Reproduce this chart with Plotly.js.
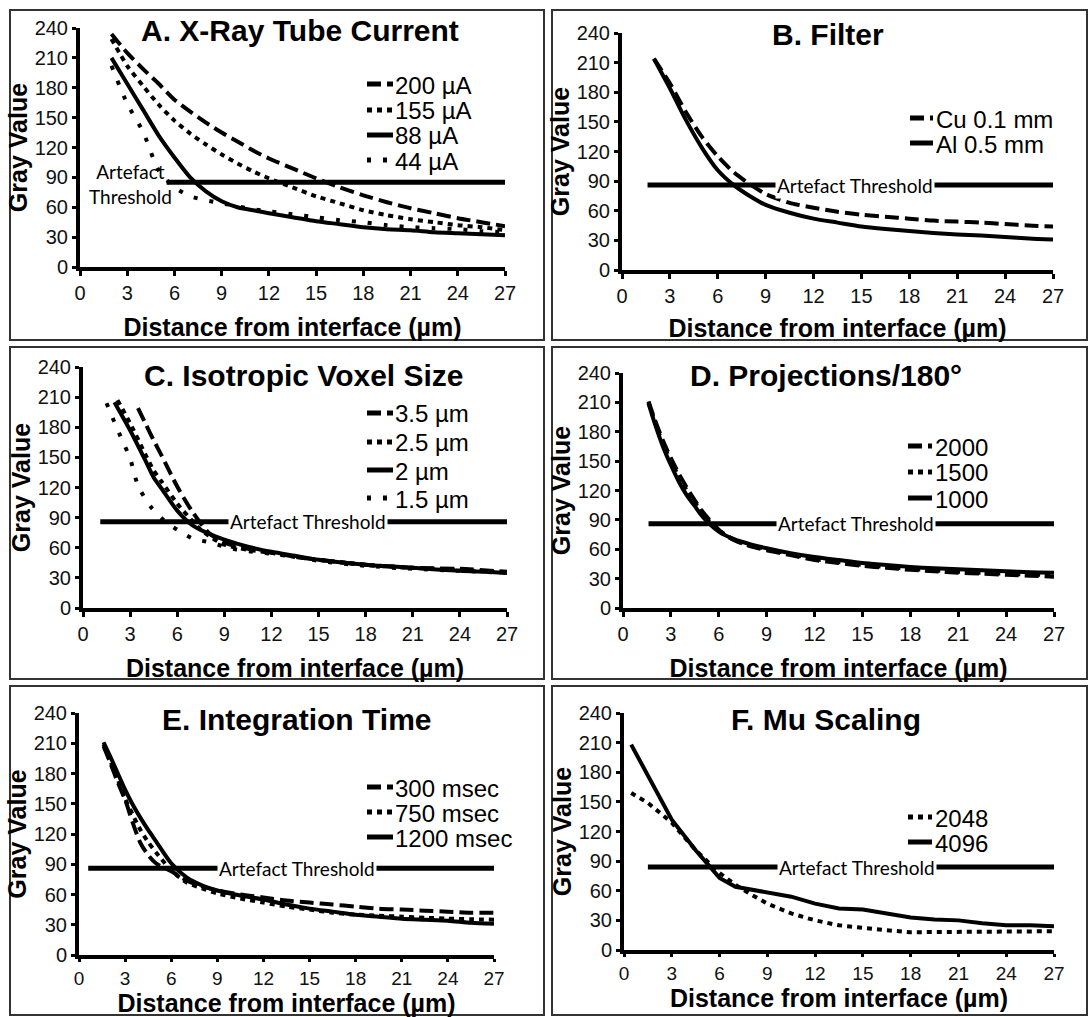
<!DOCTYPE html>
<html><head><meta charset="utf-8">
<script src="https://cdn.plot.ly/plotly-3.0.1.min.js"></script>
<style>html,body{margin:0;padding:0;background:#fff}#chart{width:1090px;height:1017px}</style>
</head><body><div id="chart"></div>
<script>
// ================= DATA =================
const xTickVals = [0, 3, 6, 9, 12, 15, 18, 21, 24, 27];
const yTickVals = [0, 30, 60, 90, 120, 150, 180, 210, 240];
const panelTitles = ['A. X-Ray Tube Current', 'B. Filter', 'C. Isotropic Voxel Size', 'D. Projections/180°', 'E. Integration Time', 'F. Mu Scaling'];
const xAxisTitle = 'Distance from interface (µm)';
const yAxisTitle = 'Gray Value';
const thresholdLabel = 'Artefact Threshold';

// A. X-Ray Tube Current
const namesA = ['200 µA', '155 µA', '88 µA', '44 µA'];
const xA = [2, 3, 4, 5, 6, 7, 8, 9, 10, 11, 12, 13.5, 15, 16.5, 18, 19.5, 21, 22.5, 24, 25.5, 27];
const yA200 = [234, 215, 199, 184, 168, 156, 145, 135, 126, 117, 109, 99, 89, 80, 72, 65, 59, 54, 49, 45, 41];
const yA155 = [229, 202, 182, 163, 147, 134, 123, 113, 104, 96, 89, 80, 71, 64, 57, 52, 48, 45, 42, 40, 37];
const yA88  = [210, 184, 158, 132, 110, 90, 76, 66, 60, 57, 54, 50, 46, 43, 40, 38, 37, 35, 34, 33, 32];
const yA44  = [202, 164, 136, 97, 80, 71, 67, 64, 61, 58, 56, 53, 50, 47, 45, 42, 40, 39, 38, 36, 35];
const thrA = [85, 85]; const thrXA = [5.5, 27];

// B. Filter
const namesB = ['Cu 0.1 mm', 'Al 0.5 mm'];
const xB = [2, 3, 4, 5, 6, 7, 8, 9, 10.5, 12, 13.5, 15, 16.5, 18, 19.5, 21, 22.5, 24, 25.5, 27];
const yBCu = [214, 189, 160, 135, 115, 99, 87, 77, 68, 63, 59, 56, 54, 52, 50, 49, 48, 46.5, 45, 44];
const yBAl = [214, 184, 152, 124, 101, 86, 75, 66, 58, 52, 48, 44, 41.5, 39.5, 37.5, 36, 35, 33.5, 32, 31];
const thrB = [86, 86]; const thrXB = [1.6, 27];

// C. Isotropic Voxel Size
const namesC = ['3.5 µm', '2.5 µm', '2 µm', '1.5 µm'];
const xC35 = [3.5, 4, 4.5, 5, 6, 7, 8, 9, 10.5, 12, 13.5, 15, 18, 21, 24, 27];
const yC35 = [199, 183, 167, 152, 121, 95, 75, 65, 59, 55, 51, 48, 43, 40, 39, 36];
const xC25 = [2.2, 3, 4, 4.5, 5, 6, 7, 7.5, 8, 9, 10.5, 12, 13.5, 15, 18, 21, 24, 27];
const yC25 = [207, 184, 152, 137, 126, 104, 86, 78, 72, 63, 58, 55, 51, 48, 43, 40, 38, 35];
const xC2 = [2, 3, 4, 4.5, 5, 6, 7, 8, 9, 10.5, 12, 13.5, 15, 18, 21, 24, 27];
const yC2 = [205, 177, 146, 130, 119, 97, 82, 74, 68, 61, 56, 52, 48, 43, 40, 37, 35];
const xC15 = [1.5, 2, 2.5, 3, 3.5, 4.3, 5.1, 6, 7, 8.2, 9.2, 10.3, 12, 13.5, 15, 18, 21, 24, 27];
const yC15 = [204, 185, 167, 149, 122, 101, 88, 78, 69, 65, 60, 57, 54, 51, 47, 42, 39, 37, 35];
const thrC = [86, 86]; const thrXC = [1.1, 27];

// D. Projections/180°
const namesD = ['2000', '1500', '1000'];
const xD = [1.6, 2, 2.5, 3, 3.5, 4, 4.5, 5, 6, 7, 8, 9, 10.5, 12, 13.5, 15, 16.5, 18, 19.5, 21, 22.5, 24, 25.5, 27];
const yD2000 = [211, 192, 171, 153, 137, 123, 110, 98, 80, 69, 63, 59, 54, 49, 46, 43, 41, 39, 37.5, 36, 35, 34, 33, 32];
const yD1500 = [210, 190, 168, 150, 134, 120, 108, 96, 79, 69, 64, 60, 55, 50, 47, 44, 42, 40, 38.5, 37, 36, 35, 34, 34];
const yD1000 = [209, 188, 165, 146, 129, 115, 104, 93, 78, 70, 65, 61, 56, 52, 49, 46, 44, 42, 40.5, 39.5, 38.5, 37.5, 36.5, 36];
const thrD = [86, 86]; const thrXD = [1.6, 27];

// E. Integration Time
const namesE = ['300 msec', '750 msec', '1200 msec'];
const xE = [1.6, 2, 2.5, 3, 3.5, 4, 4.5, 5, 6, 7, 8, 9, 10.5, 12, 13.5, 15, 16.5, 18, 19.5, 21, 22.5, 24, 25.5, 27];
const yE300  = [207, 192, 172, 154, 131, 111, 99, 91, 83, 74, 68, 64, 60, 57, 54, 52, 50, 48, 46, 45, 44, 43, 42, 42];
const yE750  = [209, 194, 175, 155, 139, 124, 112, 102, 84, 72, 66, 61, 56, 52, 48, 45, 42, 40, 39, 38, 37, 36, 35.5, 35];
const yE1200 = [211, 198, 181, 164, 149, 136, 124, 113, 91, 77, 69, 64, 59, 55, 50, 46, 43, 40, 38, 36, 35, 34, 32, 31];
const thrE = [86, 86]; const thrXE = [0.6, 27];

// F. Mu Scaling
const namesF = ['2048', '4096'];
const xF = [0.45, 1.5, 3, 4.5, 6, 7, 8, 9, 10.5, 12, 13.5, 15, 16.5, 18, 19.5, 21, 22.5, 24, 25.5, 27];
const yF2048 = [159, 149, 129, 101, 78, 66, 56, 47, 37, 30, 25, 22, 20, 18, 18, 18, 18, 18, 19, 19];
const yF4096 = [208, 177, 132, 101, 73, 64, 61, 59, 54, 47, 42, 41, 37, 33, 31, 30, 27, 25, 25, 24];
const thrF = [84, 84]; const thrXF = [1.5, 27];

// ================= LAYOUT / STYLE =================
const W = 1090, H = 1017;
const px = v => v / W;
const py = v => 1 - v / H;
const FONT = '"Liberation Sans", Arial, sans-serif';
const LABEL_FONT = 'Lato, "Open Sans", sans-serif';
const DASH = { dash: '14px,6px', dot: '5px,5px', sparse: '4px,12px', solid: 'solid' };

const panels = [
  { series: [[xA, yA200], [xA, yA155], [xA, yA88], [xA, yA44]], names: namesA, styles: ['dash', 'dot', 'solid', 'sparse'], spline: true,
    thr: [thrXA, thrA], plot: [80, 505, 267, 28], box: [10, 10, 544, 340], title: [300, 31],
    legend: { x0: 367, x1: 393, tx: 394, rows: [84, 110, 135, 160] }, thrLabel: { twoLine: true, x: 130, y: 184 },
    xtStand: 16, xTick: { len: 5, size: 20 } },
  { series: [[xB, yBCu], [xB, yBAl]], names: namesB, styles: ['dash', 'solid'], spline: true,
    thr: [thrXB, thrB], plot: [622, 1053, 270, 33], box: [552, 10, 1087, 340], title: [828, 35],
    legend: { x0: 910, x1: 933, tx: 935, rows: [118, 143] }, thrLabel: { x: 14.6 },
    xtStand: 14, xTick: { len: 5, size: 20 } },
  { series: [[xC35, yC35], [xC25, yC25], [xC2, yC2], [xC15, yC15]], names: namesC, styles: ['dash', 'dot', 'solid', 'sparse'], spline: true,
    thr: [thrXC, thrC], plot: [83, 507, 608, 367], box: [10, 347, 544, 679], title: [304, 376],
    legend: { x0: 367, x1: 393, tx: 394, rows: [413, 442, 470, 498] }, thrLabel: { x: 14.3 },
    xtStand: 16, xTick: { len: 5, size: 20 } },
  { series: [[xD, yD2000], [xD, yD1500], [xD, yD1000]], names: namesD, styles: ['dash', 'dot', 'solid'], spline: true,
    thr: [thrXD, thrD], plot: [623, 1054, 608, 373], box: [552, 347, 1087, 679], title: [826, 376],
    legend: { x0: 908, x1: 932, tx: 934, rows: [446, 472, 498] }, thrLabel: { x: 14.6 },
    xtStand: 16, xTick: { len: 5, size: 20 } },
  { series: [[xE, yE300], [xE, yE750], [xE, yE1200]], names: namesE, styles: ['dash', 'dot', 'solid'], spline: true,
    thr: [thrXE, thrE], plot: [79, 494, 955, 713], box: [10, 686, 544, 1015], title: [297, 719],
    legend: { x0: 367, x1: 393, tx: 394, rows: [787, 812, 837] }, thrLabel: { x: 14.2 },
    xtStand: 8, xTick: { len: 3, size: 19 } },
  { series: [[xF, yF2048], [xF, yF4096]], names: namesF, styles: ['dot', 'solid'], spline: false,
    thr: [thrXF, thrF], plot: [624, 1054, 950, 713], box: [552, 686, 1087, 1015], title: [826, 719],
    legend: { x0: 908, x1: 932, tx: 934, rows: [817, 842] }, thrLabel: { x: 14.6 },
    xtStand: 8, xTick: { len: 3, size: 19 } }
];

const traces = [];
const layout = {
  width: W, height: H,
  margin: { l: 0, r: 0, t: 0, b: 0 },
  paper_bgcolor: '#fff', plot_bgcolor: 'rgba(0,0,0,0)',
  showlegend: false,
  font: { family: FONT, color: '#000' },
  shapes: [], annotations: []
};

panels.forEach((p, i) => {
  const n = i + 1;
  const xa = n === 1 ? 'x' : 'x' + n;
  const ya = n === 1 ? 'y' : 'y' + n;
  const xk = n === 1 ? 'xaxis' : 'xaxis' + n;
  const yk = n === 1 ? 'yaxis' : 'yaxis' + n;

  // threshold line
  traces.push({ x: p.thr[0], y: p.thr[1], xaxis: xa, yaxis: ya, mode: 'lines', name: thresholdLabel,
    line: { color: '#000', width: 5 }, hoverinfo: 'skip' });
  // data series
  p.series.forEach((s, j) => {
    traces.push({ x: s[0], y: s[1], xaxis: xa, yaxis: ya, mode: 'lines', name: p.names[j],
      line: { color: '#000', width: 4, dash: DASH[p.styles[j]], shape: p.spline ? 'spline' : 'linear', smoothing: 0.7 } });
  });

  const [l, r, b, t] = p.plot;
  layout[xk] = {
    domain: [px(l), px(r)], anchor: ya, range: [0, 27], tickvals: xTickVals, ticktext: xTickVals.map(String),
    showline: true, linewidth: 4, linecolor: '#000', ticks: 'outside', ticklen: p.xTick.len, tickwidth: 3, tickcolor: '#000',
    showgrid: false, zeroline: false, tickfont: { family: FONT, size: p.xTick.size, color: '#111' },
    title: { text: xAxisTitle, font: { family: FONT, size: 25, color: '#000', weight: 'bold' }, standoff: p.xtStand },
    fixedrange: true
  };
  layout[yk] = {
    domain: [py(b), py(t)], anchor: xa, range: [0, 240], tickvals: yTickVals, ticktext: yTickVals.map(String),
    showline: true, linewidth: 4, linecolor: '#000', ticks: 'outside', ticklen: 4, tickwidth: 3, tickcolor: '#000',
    showgrid: false, zeroline: false, tickfont: { family: FONT, size: 20, color: '#111' },
    title: { text: yAxisTitle, font: { family: FONT, size: 25, color: '#000', weight: 'bold' }, standoff: 1 },
    fixedrange: true
  };

  // panel box
  layout.shapes.push({ type: 'rect', xref: 'paper', yref: 'paper', x0: px(p.box[0]), x1: px(p.box[2]), y0: py(p.box[3]), y1: py(p.box[1]),
    line: { color: '#333', width: 2 }, layer: 'below' });

  // panel title
  layout.annotations.push({ xref: 'paper', yref: 'paper', x: px(p.title[0]), y: py(p.title[1]), xanchor: 'center', yanchor: 'middle',
    text: '<b>' + panelTitles[i] + '</b>', showarrow: false, font: { family: FONT, size: 30, color: '#000' } });

  // legend (built from series names/styles)
  p.names.forEach((nm, j) => {
    const yy = p.legend.rows[j];
    layout.shapes.push({ type: 'line', xref: 'paper', yref: 'paper', x0: px(p.legend.x0), x1: px(p.legend.x1), y0: py(yy), y1: py(yy),
      line: { color: '#000', width: 5, dash: DASH[p.styles[j]] } });
    layout.annotations.push({ xref: 'paper', yref: 'paper', x: px(p.legend.tx), y: py(yy + 1), xanchor: 'left', yanchor: 'middle',
      borderpad: 0, text: nm, showarrow: false, font: { family: FONT, size: 24, color: '#000' } });
  });

  // threshold label
  if (p.thrLabel.twoLine) {
    layout.annotations.push({ xref: 'paper', yref: 'paper', x: px(p.thrLabel.x), y: py(p.thrLabel.y), xanchor: 'center', yanchor: 'middle',
      text: 'Artefact<br>Threshold', showarrow: false, align: 'center', font: { family: LABEL_FONT, size: 19, color: '#000' } });
  } else {
    layout.annotations.push({ xref: xa, yref: ya, x: p.thrLabel.x, y: p.thr[1][0], xanchor: 'center', yanchor: 'middle',
      text: thresholdLabel, showarrow: false, bgcolor: '#fff', borderpad: 1,
      font: { family: LABEL_FONT, size: 19, color: '#000' } });
  }
});

Plotly.newPlot('chart', traces, layout, { staticPlot: true, displayModeBar: false });
</script>
</body></html>
